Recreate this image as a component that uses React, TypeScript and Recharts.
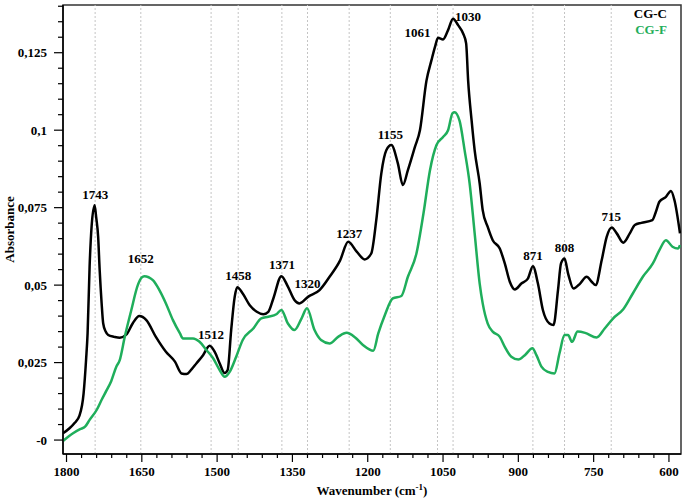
import React from 'react';
import { LineChart, Line, XAxis, YAxis, ReferenceLine, ReferenceDot, ReferenceArea, Label } from 'recharts';

// CG-C (black) spectrum, wavenumber (cm-1) -> absorbance
const waveC = [
  1807, 1794, 1784, 1774, 1766, 1761, 1758, 1754, 1750, 1744, 1741, 1737, 1734, 1730, 1727, 1722, 1717,
  1705, 1694, 1681, 1668, 1655, 1641, 1622, 1602, 1584, 1571, 1561, 1551, 1541, 1528, 1515, 1505, 1495, 1485,
  1479, 1472, 1465, 1460, 1449, 1435, 1421, 1408, 1398, 1388, 1372, 1359, 1346, 1336, 1319, 1296, 1276, 1255,
  1239, 1222, 1206, 1193, 1183, 1173, 1163, 1153, 1140, 1130, 1120, 1106, 1096, 1083, 1073, 1066, 1060, 1050,
  1040, 1030, 1020, 1010, 1004, 1000, 993, 987, 977, 971, 961, 951, 937, 927, 917, 907, 894, 881, 871, 861, 851,
  838, 830, 821, 815, 808, 801, 790, 777, 764, 754, 746, 734, 724, 714, 704, 691, 678, 668, 655, 633, 626, 619,
  606, 596, 589, 578,
];
const absC = [
  0.0022, 0.0038, 0.0055, 0.008, 0.015, 0.026, 0.0345, 0.056, 0.069, 0.0758, 0.072, 0.0656, 0.055, 0.044,
  0.0377, 0.035, 0.0339, 0.0333, 0.033, 0.034, 0.0377, 0.04, 0.0387, 0.0333, 0.0285, 0.0253, 0.0215, 0.0213,
  0.0228, 0.0248, 0.0274, 0.0304, 0.0285, 0.0248, 0.0216, 0.0226, 0.0355, 0.0462, 0.0493, 0.0473, 0.0435, 0.0414,
  0.0406, 0.0414, 0.0457, 0.0529, 0.0495, 0.0452, 0.0441, 0.0462, 0.0484, 0.0527, 0.058, 0.064, 0.0608, 0.0583,
  0.0602, 0.071, 0.086, 0.0935, 0.0952, 0.0893, 0.0823, 0.0871, 0.0946, 0.1, 0.116, 0.1226, 0.1269, 0.1298,
  0.1293, 0.1323, 0.136, 0.1339, 0.1312, 0.128, 0.116, 0.103, 0.0935, 0.0828, 0.0742, 0.0688, 0.0645, 0.0618,
  0.057, 0.0511, 0.0486, 0.0505, 0.0521, 0.0561, 0.0505, 0.0419, 0.0376, 0.0371, 0.0484, 0.057, 0.0586, 0.0538,
  0.0489, 0.0505, 0.0527, 0.0511, 0.05, 0.058, 0.0656, 0.0686, 0.0667, 0.0637, 0.0667, 0.0694, 0.0701, 0.071,
  0.0737, 0.0769, 0.0785, 0.0804, 0.0774, 0.0667,
];

// CG-F (green) spectrum
const waveF = [
  1807, 1787, 1773, 1763, 1754, 1740, 1730, 1720, 1711, 1701, 1694, 1684, 1671, 1658, 1650, 1645, 1628, 1615,
  1602, 1588, 1574, 1568, 1548, 1535, 1521, 1508, 1495, 1485, 1475, 1462, 1449, 1428, 1412, 1398, 1382, 1372,
  1359, 1346, 1332, 1321, 1306, 1293, 1276, 1259, 1242, 1225, 1209, 1189, 1179, 1166, 1150, 1133, 1120, 1103,
  1089, 1076, 1063, 1050, 1040, 1031, 1027, 1017, 1007, 997, 987, 977, 971, 961, 951, 937, 927, 914, 900, 887,
  872, 864, 854, 841, 828, 818, 808, 801, 793, 782, 767, 744, 728, 711, 691, 672, 652, 632, 619, 606, 593, 582,
  578,
];
const absF = [
  -0.0003, 0.0022, 0.0035, 0.0043, 0.0065, 0.0097, 0.013, 0.0161, 0.019, 0.0236, 0.0258, 0.0333, 0.0419, 0.05,
  0.0525, 0.0529, 0.0516, 0.0484, 0.0441, 0.0387, 0.0344, 0.0328, 0.0328, 0.0317, 0.029, 0.0264, 0.0226, 0.0204,
  0.022, 0.0269, 0.0323, 0.036, 0.0393, 0.0398, 0.0406, 0.042, 0.0376, 0.0355, 0.0392, 0.0425, 0.0355, 0.0323,
  0.0312, 0.0333, 0.0346, 0.0331, 0.0306, 0.0288, 0.0344, 0.0403, 0.0457, 0.0465, 0.0527, 0.0602, 0.0731, 0.0871,
  0.0952, 0.0978, 0.1, 0.1055, 0.1058, 0.103, 0.0935, 0.0828, 0.0667, 0.0505, 0.0441, 0.0376, 0.035, 0.0333,
  0.0301, 0.0269, 0.026, 0.0274, 0.0296, 0.0274, 0.0237, 0.022, 0.0215, 0.028, 0.0339, 0.0339, 0.0317, 0.035,
  0.0346, 0.0331, 0.036, 0.0393, 0.0422, 0.0473, 0.0527, 0.057, 0.0613, 0.0645, 0.0624, 0.0618, 0.0629,
];

const seriesNames = ['CG-C', 'CG-F'];
const seriesColors = ['#000000', '#1fae5b'];

const peaks = [1743, 1652, 1512, 1458, 1371, 1320, 1237, 1155, 1061, 1030, 871, 808, 715];
// pixel nudges for the peak labels (dx, dy from the curve)
const labelNudge: Record<number, [number, number]> = {
  1743: [0, -10], 1652: [0, -16], 1512: [0, -9], 1458: [0, -8], 1371: [0, -8], 1320: [0, -9],
  1237: [0, -5], 1155: [0, -7], 1061: [-20, -2], 1030: [15, 2], 871: [0, -6], 808: [0, -6], 715: [0, -7],
};

const xMajor = [1800, 1650, 1500, 1350, 1200, 1050, 900, 750, 600];
const yMajor = [0, 0.025, 0.05, 0.075, 0.1, 0.125];
const xDomain = [576, 1807];
const yDomain = [-0.0045, 0.1404];

const xTicks: number[] = [];
for (let w = 600; w <= 1800; w += 30) xTicks.push(w);
const yTicks: number[] = [];
for (let i = 0; i <= 28; i++) yTicks.push(Math.round(i * 5) / 1000);

const dataC = waveC.map((w, i) => ({ wave: w, abs: absC[i] }));
const dataF = waveF.map((w, i) => ({ wave: w, abs: absF[i] }));

const interp = (waves: number[], vals: number[], w: number) => {
  for (let i = 0; i < waves.length - 1; i++) {
    const a = waves[i];
    const b = waves[i + 1];
    if (w <= a && w >= b) return vals[i] + ((a - w) / (a - b)) * (vals[i + 1] - vals[i]);
  }
  return 0;
};

const FONT = '"Liberation Serif", "Times New Roman", serif';

const fmtY = (v: number) => (v === 0 ? '-0' : String(v).replace('.', ','));

const XTick = ({ x, y, payload }: any) => {
  const major = xMajor.includes(payload.value);
  return (
    <g>
      <line x1={x} x2={x} y1={y} y2={y + (major ? 8 : 4)} stroke="#000" strokeWidth={1.2} />
      {major && (
        <text x={x} y={y + 22} textAnchor="middle" fontFamily={FONT} fontWeight="bold" fontSize={13} fill="#000">
          {payload.value}
        </text>
      )}
    </g>
  );
};

const YTick = ({ x, y, payload }: any) => {
  const major = yMajor.some((m) => Math.abs(m - payload.value) < 1e-9);
  return (
    <g>
      <line x1={x} x2={x - (major ? 9 : 5)} y1={y} y2={y} stroke="#000" strokeWidth={1.2} />
      {major && (
        <text x={x - 16} y={y + 4.5} textAnchor="end" fontFamily={FONT} fontWeight="bold" fontSize={13} fill="#000">
          {fmtY(payload.value)}
        </text>
      )}
    </g>
  );
};

export default function App() {
  return (
    <div style={{ position: 'absolute', left: 0, top: 0, width: 685, height: 499, background: '#fff' }}>
      <LineChart width={685} height={499} margin={{ top: 5, right: 4, bottom: 0, left: 0 }}>
        <XAxis
          dataKey="wave"
          type="number"
          domain={xDomain}
          reversed
          allowDataOverflow
          ticks={xTicks}
          interval={0}
          tick={<XTick />}
          tickLine={false}
          tickSize={0}
          tickMargin={0}
          height={45}
          axisLine={{ stroke: '#000', strokeWidth: 1.5 }}
        >
          <Label
            content={({ viewBox }: any) => (
              <text
                x={viewBox.x + viewBox.width / 2}
                y={viewBox.y + 41}
                textAnchor="middle"
                fontFamily={FONT}
                fontWeight="bold"
                fontSize={13}
                fill="#000"
              >
                Wavenumber (cm
                <tspan dy={-5} fontSize={9}>-1</tspan>
                <tspan dy={5}>)</tspan>
              </text>
            )}
          />
        </XAxis>
        <YAxis
          type="number"
          domain={yDomain}
          allowDataOverflow
          ticks={yTicks}
          interval={0}
          tick={<YTick />}
          tickLine={false}
          tickSize={0}
          tickMargin={0}
          width={63}
          axisLine={{ stroke: '#000', strokeWidth: 1.5 }}
        >
          <Label
            content={({ viewBox }: any) => {
              const cx = viewBox.x + 9;
              const cy = viewBox.y + viewBox.height / 2;
              return (
                <text
                  x={cx}
                  y={cy}
                  transform={`rotate(-90 ${cx} ${cy})`}
                  textAnchor="middle"
                  dominantBaseline="central"
                  fontFamily={FONT}
                  fontWeight="bold"
                  fontSize={13}
                  fill="#000"
                >
                  Absorbance
                </text>
              );
            }}
          />
        </YAxis>
        <ReferenceArea
          x1={xDomain[0]}
          x2={xDomain[1]}
          y1={yDomain[0]}
          y2={yDomain[1]}
          fill="none"
          stroke="#333"
          strokeWidth={1.5}
          ifOverflow="visible"
        />
        {peaks.map((p) => (
          <ReferenceLine key={p} x={p} stroke="#c4c4c4" strokeDasharray="2 2" strokeWidth={1} />
        ))}
        <Line
          data={dataC}
          dataKey="abs"
          name={seriesNames[0]}
          type="monotone"
          stroke={seriesColors[0]}
          strokeWidth={2.5}
          dot={false}
          isAnimationActive={false}
        />
        <Line
          data={dataF}
          dataKey="abs"
          name={seriesNames[1]}
          type="monotone"
          stroke={seriesColors[1]}
          strokeWidth={2.5}
          dot={false}
          isAnimationActive={false}
        />
        {peaks.map((p) => {
          const v = Math.max(interp(waveC, absC, p), interp(waveF, absF, p));
          const [dx, dy] = labelNudge[p];
          return (
            <ReferenceDot
              key={`lbl-${p}`}
              x={p}
              y={v}
              r={0}
              ifOverflow="visible"
              shape={(props: any) => (
                <text
                  x={props.cx + dx}
                  y={props.cy + dy}
                  textAnchor="middle"
                  fontFamily={FONT}
                  fontWeight="bold"
                  fontSize={13}
                  fill="#000"
                >
                  {p}
                </text>
              )}
            />
          );
        })}
      </LineChart>
      <div
        style={{
          position: 'absolute',
          top: 6,
          right: 18,
          textAlign: 'right',
          fontFamily: FONT,
          fontWeight: 'bold',
          fontSize: 13,
          lineHeight: '16px',
        }}
      >
        {seriesNames.map((n, i) => (
          <div key={n} style={{ color: seriesColors[i] }}>
            {n}
          </div>
        ))}
      </div>
    </div>
  );
}
